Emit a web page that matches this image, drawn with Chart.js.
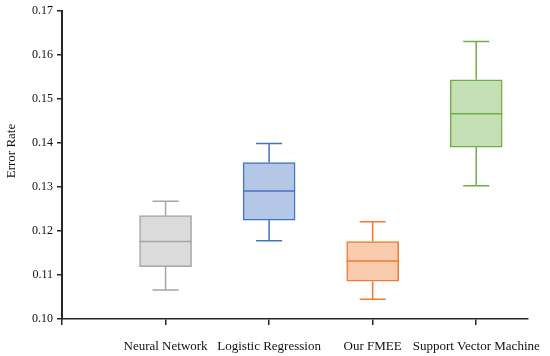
<!DOCTYPE html>
<html>
<head>
<meta charset="utf-8">
<script src="https://cdn.jsdelivr.net/npm/chart.js@4/dist/chart.umd.min.js"></script>
<style>
  html, body { margin: 0; padding: 0; background: #fff; }
  #box { width: 550px; height: 356px; }
</style>
</head>
<body>
<div id="box"><canvas id="errChart" width="550" height="356"></canvas></div>
<script>
// ==========================================
// 1. Data
// ==========================================
const categories = ['Neural Network', 'Logistic Regression', 'Our FMEE', 'Support Vector Machine'];
const minVals    = [0.1066, 0.1178, 0.1045, 0.1303];
const q1Vals     = [0.1119, 0.1225, 0.1086, 0.1391];
const medianVals = [0.1176, 0.1291, 0.1132, 0.1467];
const q3Vals     = [0.1235, 0.1356, 0.1176, 0.1544];
const maxVals    = [0.1268, 0.1399, 0.1221, 0.1631];
const yTicks     = [0.10, 0.11, 0.12, 0.13, 0.14, 0.15, 0.16, 0.17];

const strokeColors = ['#a5a5a5', '#4472c4', '#ed7d31', '#70ad47'];
const fillColors   = ['#dbdbdb', '#b4c7e7', '#f8cbad', '#c5e0b4'];

const axisColor = '#262626';
const serif = '"Liberation Serif", "DejaVu Serif", serif';

// ==========================================
// 2. Plugins: median line + whiskers, y title
// ==========================================
const whiskerPlugin = {
    id: 'whiskers',
    afterDatasetsDraw(chart) {
        const ctx = chart.ctx;
        const yScale = chart.scales.y;
        const bars = chart.getDatasetMeta(0).data;
        ctx.save();
        ctx.lineWidth = 1.5;
        bars.forEach((bar, i) => {
            const cx = bar.x;
            const half = bar.width / 2;
            const cap = half / 2;
            const yMin = yScale.getPixelForValue(minVals[i]);
            const yQ1 = yScale.getPixelForValue(q1Vals[i]);
            const yMed = yScale.getPixelForValue(medianVals[i]);
            const yQ3 = yScale.getPixelForValue(q3Vals[i]);
            const yMax = yScale.getPixelForValue(maxVals[i]);
            ctx.strokeStyle = strokeColors[i];
            ctx.beginPath();
            // median
            ctx.moveTo(cx - half, yMed); ctx.lineTo(cx + half, yMed);
            // upper whisker
            ctx.moveTo(cx, yQ3); ctx.lineTo(cx, yMax);
            ctx.moveTo(cx - cap, yMax); ctx.lineTo(cx + cap, yMax);
            // lower whisker
            ctx.moveTo(cx, yQ1); ctx.lineTo(cx, yMin);
            ctx.moveTo(cx - cap, yMin); ctx.lineTo(cx + cap, yMin);
            ctx.stroke();
        });
        ctx.restore();
    }
};

// y title sits a bit above the middle of the axis in the original
const yTitlePlugin = {
    id: 'yTitle',
    afterDraw(chart) {
        const ctx = chart.ctx;
        ctx.save();
        ctx.translate(12, 151);
        ctx.rotate(-Math.PI / 2);
        ctx.fillStyle = '#111';
        ctx.font = '13px ' + serif;
        ctx.textAlign = 'center';
        ctx.textBaseline = 'middle';
        ctx.fillText('Error Rate', 0, 0);
        ctx.restore();
    }
};

// ==========================================
// 3. Chart
// ==========================================
const ctx = document.getElementById('errChart').getContext('2d');
new Chart(ctx, {
    type: 'bar',
    data: {
        datasets: [{
            data: categories.map((c, i) => ({ x: i + 1, y: [q1Vals[i], q3Vals[i]] })),
            backgroundColor: fillColors,
            borderColor: strokeColors,
            borderWidth: 1.5,
            borderSkipped: false,
            barThickness: 52
        }]
    },
    options: {
        responsive: false,
        animation: false,
        devicePixelRatio: 1,
        layout: { padding: { left: 0, right: 22, top: 4, bottom: 0 } },
        plugins: {
            legend: { display: false },
            tooltip: { enabled: false }
        },
        scales: {
            x: {
                type: 'linear',
                min: 0,
                max: 4.5,
                offset: false,
                afterBuildTicks: (scale) => {
                    scale.ticks = [0, 1, 2, 3, 4].map(v => ({ value: v }));
                },
                afterFit: (scale) => {
                    scale.height = 37;
                    scale.paddingLeft = 0;
                    scale.paddingRight = 0;
                },
                grid: { offset: false, drawOnChartArea: false, drawTicks: true, tickLength: 6, color: axisColor, lineWidth: 1.5 },
                border: { display: true, color: axisColor, width: 1.5 },
                ticks: {
                    autoSkip: false,
                    maxRotation: 0,
                    padding: 14,
                    color: '#111',
                    font: { family: serif, size: 13 },
                    callback: (v) => (v >= 1 && v <= 4 ? categories[v - 1] : '')
                }
            },
            y: {
                min: 0.10,
                max: 0.17,
                afterBuildTicks: (scale) => {
                    scale.ticks = yTicks.map(v => ({ value: v }));
                },
                afterFit: (scale) => { scale.width = 62; },
                grid: { drawOnChartArea: false, drawTicks: true, tickLength: 5, color: axisColor, lineWidth: 1.5 },
                border: { display: true, color: axisColor, width: 2 },
                ticks: {
                    padding: 4,
                    color: '#111',
                    font: { family: serif, size: 12 },
                    callback: (v) => v.toFixed(2)
                }
            }
        }
    },
    plugins: [whiskerPlugin, yTitlePlugin]
});
</script>
</body>
</html>
